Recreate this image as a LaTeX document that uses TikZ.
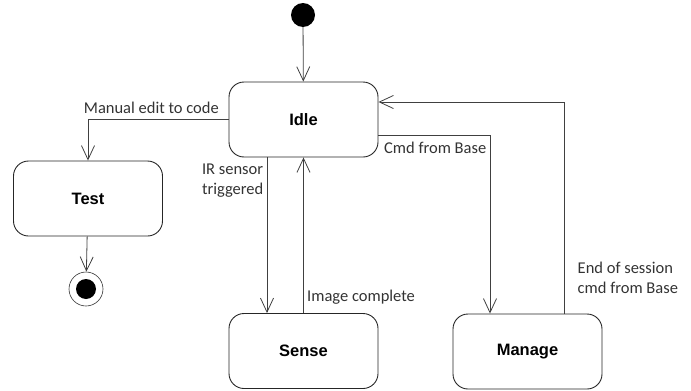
\documentclass[tikz,border=0pt]{standalone}
\usepackage{fontspec}
\setmainfont{Carlito}
\newfontfamily\statefont{Liberation Sans}
\usetikzlibrary{arrows.meta}

\tikzset{
  state/.style={draw=black!85, line width=0.9pt, rounded corners=15pt,
    minimum width=149pt, minimum height=75pt,
    font=\statefont\bfseries\fontsize{16.5}{20}\selectfont},
  trans/.style={draw=black!75, line width=0.8pt,
    -{Straight Barb[length=14pt,width=13pt,line width=0.8pt]}},
  lbl/.style={text=black!80, align=left, font=\fontsize{16.5}{20}\selectfont}
}

\begin{document}
\begin{tikzpicture}[x=1pt,y=-1pt]
  \useasboundingbox (0,0) rectangle (691,391);

  % states
  \node[state] (idle)   at (303.5,119.5) {Idle};
  \node[state] (test)   at (88,198.5)    {Test};
  \node[state] (sense)  at (303.5,351)   {Sense};
  \node[state] (manage) at (527.5,351.5) {Manage};

  % start and end points
  \node[circle, fill=black, minimum size=24pt, inner sep=0pt] (start) at (303,15) {};
  \node[circle, draw=black!80, line width=0.6pt, minimum size=34pt, inner sep=0pt] (stop) at (86,289) {};
  \node[circle, fill=black, minimum size=20pt, inner sep=0pt] (stopdot) at (stop) {};

  % transitions
  \draw[trans] (start) -- (idle);
  \draw[trans] (idle.west) -| (test.north)
    node[lbl, pos=0, anchor=south east, xshift=-6pt, yshift=2pt] {Manual edit to code};
  \draw[trans] (test) -- (stop);
  \draw[trans] ([xshift=-36.5pt]idle.south) -- ([xshift=-36.5pt]sense.north)
    node[lbl, pos=0.15, left] {IR sensor\\triggered};
  \draw[trans] (sense.north) -- (idle.south)
    node[lbl, pos=0.1, right] {Image complete};
  \draw[trans] ([yshift=-15.5pt]idle.east) -| ([xshift=-37.5pt]manage.north)
    node[lbl, pos=0, anchor=north west, xshift=2pt, yshift=-3pt] {Cmd from Base};
  \draw[trans] ([xshift=36.5pt]manage.north) |- ([yshift=17.5pt]idle.east)
    node[lbl, pos=0.085, right, xshift=10pt] {End of session\\cmd from Base};
\end{tikzpicture}
\end{document}
